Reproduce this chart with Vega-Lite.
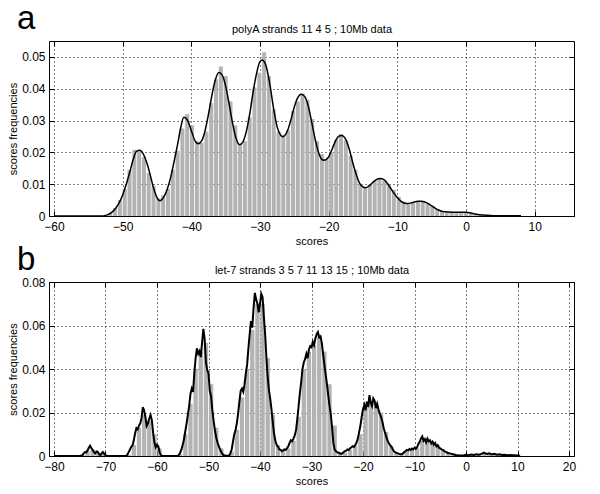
{
  "$schema": "https://vega.github.io/schema/vega-lite/v6.json",
  "padding": {"left": 7, "top": 2, "right": 0, "bottom": 0},
  "background": "white",
  "datasets": {
    "barsA": [
      {"s": -51.8, "f": 0.001}, {"s": -51.1, "f": 0.0025}, {"s": -50.4, "f": 0.005}, {"s": -49.7, "f": 0.0085},
      {"s": -49.0, "f": 0.0145}, {"s": -48.3, "f": 0.0208}, {"s": -47.6, "f": 0.0208}, {"s": -46.9, "f": 0.0185},
      {"s": -46.2, "f": 0.0135}, {"s": -45.5, "f": 0.0095}, {"s": -44.8, "f": 0.0055}, {"s": -44.1, "f": 0.0065},
      {"s": -43.4, "f": 0.0085}, {"s": -42.7, "f": 0.0145}, {"s": -42.0, "f": 0.0205}, {"s": -41.3, "f": 0.0275},
      {"s": -40.6, "f": 0.032}, {"s": -39.9, "f": 0.0285}, {"s": -39.2, "f": 0.0235}, {"s": -38.5, "f": 0.023},
      {"s": -37.8, "f": 0.0265}, {"s": -37.1, "f": 0.0355}, {"s": -36.4, "f": 0.043}, {"s": -35.7, "f": 0.047},
      {"s": -35.0, "f": 0.044}, {"s": -34.3, "f": 0.036}, {"s": -33.6, "f": 0.0285}, {"s": -32.9, "f": 0.0228},
      {"s": -32.2, "f": 0.0235}, {"s": -31.5, "f": 0.031}, {"s": -30.8, "f": 0.0405}, {"s": -30.1, "f": 0.045},
      {"s": -29.4, "f": 0.0515}, {"s": -28.7, "f": 0.044}, {"s": -28.0, "f": 0.0335}, {"s": -27.3, "f": 0.0265},
      {"s": -26.6, "f": 0.0255}, {"s": -25.9, "f": 0.027}, {"s": -25.2, "f": 0.033}, {"s": -24.5, "f": 0.036},
      {"s": -23.8, "f": 0.0385}, {"s": -23.1, "f": 0.0365}, {"s": -22.4, "f": 0.0305}, {"s": -21.7, "f": 0.0235},
      {"s": -21.0, "f": 0.0195}, {"s": -20.3, "f": 0.018}, {"s": -19.6, "f": 0.02}, {"s": -18.9, "f": 0.024},
      {"s": -18.2, "f": 0.0258}, {"s": -17.5, "f": 0.0238}, {"s": -16.8, "f": 0.019}, {"s": -16.1, "f": 0.0145},
      {"s": -15.4, "f": 0.01}, {"s": -14.7, "f": 0.009}, {"s": -14.0, "f": 0.01}, {"s": -13.3, "f": 0.0112},
      {"s": -12.6, "f": 0.0118}, {"s": -11.9, "f": 0.0112}, {"s": -11.2, "f": 0.0096}, {"s": -10.5, "f": 0.0082},
      {"s": -9.8, "f": 0.006}, {"s": -9.1, "f": 0.0045}, {"s": -8.4, "f": 0.0038}, {"s": -7.7, "f": 0.004},
      {"s": -7.0, "f": 0.0047}, {"s": -6.3, "f": 0.0045}, {"s": -5.6, "f": 0.004}, {"s": -4.9, "f": 0.0032},
      {"s": -4.2, "f": 0.0022}, {"s": -3.5, "f": 0.0015}, {"s": -2.8, "f": 0.0012}, {"s": -2.1, "f": 0.0012},
      {"s": -1.4, "f": 0.0011}, {"s": -0.7, "f": 0.0012}, {"s": 0.0, "f": 0.0012}, {"s": 0.7, "f": 0.0008},
      {"s": 1.4, "f": 0.0005}, {"s": 2.1, "f": 0.0003}
    ],
    "lineA": [
      {"s": -60, "f": 0}, {"s": -53, "f": 0}, {"s": -52.5, "f": 0.0002}, {"s": -52, "f": 0.0006}, {"s": -51.5, "f": 0.0013},
      {"s": -51, "f": 0.0025}, {"s": -50.5, "f": 0.0042}, {"s": -50, "f": 0.0066}, {"s": -49.5, "f": 0.0098}, {"s": -49, "f": 0.0135},
      {"s": -48.5, "f": 0.0175}, {"s": -48, "f": 0.0203}, {"s": -47.5, "f": 0.0207}, {"s": -47, "f": 0.0195},
      {"s": -46.5, "f": 0.0168}, {"s": -46, "f": 0.013}, {"s": -45.5, "f": 0.0088}, {"s": -45, "f": 0.0058},
      {"s": -44.6, "f": 0.0048}, {"s": -44, "f": 0.006}, {"s": -43.5, "f": 0.0085}, {"s": -43, "f": 0.0122},
      {"s": -42.5, "f": 0.0172}, {"s": -42, "f": 0.0225}, {"s": -41.5, "f": 0.0282}, {"s": -41.1, "f": 0.031},
      {"s": -40.5, "f": 0.0298}, {"s": -40, "f": 0.0268}, {"s": -39.5, "f": 0.0238}, {"s": -39, "f": 0.0227},
      {"s": -38.5, "f": 0.0236}, {"s": -38, "f": 0.0268}, {"s": -37.5, "f": 0.032}, {"s": -37, "f": 0.038},
      {"s": -36.5, "f": 0.0428}, {"s": -36, "f": 0.0451}, {"s": -35.5, "f": 0.0443}, {"s": -35, "f": 0.0408},
      {"s": -34.5, "f": 0.0352}, {"s": -34, "f": 0.0292}, {"s": -33.5, "f": 0.0245}, {"s": -33, "f": 0.0224},
      {"s": -32.5, "f": 0.0232}, {"s": -32, "f": 0.0265}, {"s": -31.5, "f": 0.032}, {"s": -31, "f": 0.039},
      {"s": -30.5, "f": 0.0448}, {"s": -30, "f": 0.0486}, {"s": -29.7, "f": 0.049}, {"s": -29.3, "f": 0.0482},
      {"s": -29, "f": 0.0462}, {"s": -28.5, "f": 0.0405}, {"s": -28, "f": 0.0335}, {"s": -27.5, "f": 0.028},
      {"s": -27, "f": 0.0254}, {"s": -26.7, "f": 0.0249}, {"s": -26, "f": 0.0268}, {"s": -25.5, "f": 0.0302},
      {"s": -25, "f": 0.0343}, {"s": -24.5, "f": 0.0372}, {"s": -24, "f": 0.0383}, {"s": -23.5, "f": 0.0376},
      {"s": -23, "f": 0.0348}, {"s": -22.5, "f": 0.0298}, {"s": -22, "f": 0.0245}, {"s": -21.5, "f": 0.0201},
      {"s": -21, "f": 0.0178}, {"s": -20.7, "f": 0.0175}, {"s": -20, "f": 0.0186}, {"s": -19.5, "f": 0.021},
      {"s": -19, "f": 0.0236}, {"s": -18.5, "f": 0.0251}, {"s": -18.1, "f": 0.0253}, {"s": -17.5, "f": 0.024},
      {"s": -17, "f": 0.021}, {"s": -16.5, "f": 0.0168}, {"s": -16, "f": 0.0131}, {"s": -15.5, "f": 0.0103},
      {"s": -15, "f": 0.0091}, {"s": -14.6, "f": 0.0089}, {"s": -14, "f": 0.0096}, {"s": -13.5, "f": 0.0107},
      {"s": -13, "f": 0.0115}, {"s": -12.5, "f": 0.0118}, {"s": -12, "f": 0.0115}, {"s": -11.5, "f": 0.0104},
      {"s": -11, "f": 0.0088}, {"s": -10.5, "f": 0.0072}, {"s": -10, "f": 0.0058}, {"s": -9.5, "f": 0.0047},
      {"s": -9, "f": 0.0041}, {"s": -8.5, "f": 0.0039}, {"s": -8, "f": 0.0041}, {"s": -7.5, "f": 0.0044},
      {"s": -7, "f": 0.0046}, {"s": -6.5, "f": 0.0046}, {"s": -6, "f": 0.0044}, {"s": -5.5, "f": 0.0039},
      {"s": -5, "f": 0.0032}, {"s": -4.5, "f": 0.0025}, {"s": -4, "f": 0.0019}, {"s": -3.5, "f": 0.0015},
      {"s": -3, "f": 0.0013}, {"s": -2, "f": 0.0012}, {"s": -1, "f": 0.0012}, {"s": 0, "f": 0.0012},
      {"s": 1, "f": 0.0008}, {"s": 2, "f": 0.0004}, {"s": 3, "f": 0.0002}, {"s": 4, "f": 0.0001}, {"s": 8, "f": 0.0001}
    ],
    "barsB": [
      {"s": -74.5, "f": 0.0006}, {"s": -73.5, "f": 0.0025}, {"s": -72.5, "f": 0.003}, {"s": -71.5, "f": 0.0015},
      {"s": -70.5, "f": 0.001}, {"s": -69.5, "f": 0.0002},
      {"s": -65.5, "f": 0.0005}, {"s": -64.5, "f": 0.005}, {"s": -63.5, "f": 0.013}, {"s": -62.5, "f": 0.019},
      {"s": -61.5, "f": 0.016}, {"s": -60.5, "f": 0.01}, {"s": -59.5, "f": 0.0035}, {"s": -58.5, "f": 0.0002},
      {"s": -55.5, "f": 0.001}, {"s": -54.5, "f": 0.01}, {"s": -53.5, "f": 0.024}, {"s": -52.5, "f": 0.04},
      {"s": -51.5, "f": 0.048}, {"s": -50.5, "f": 0.052}, {"s": -49.5, "f": 0.033}, {"s": -48.5, "f": 0.013},
      {"s": -47.5, "f": 0.0035}, {"s": -46.5, "f": 0.0004}, {"s": -45.5, "f": 0.002}, {"s": -44.5, "f": 0.012},
      {"s": -43.5, "f": 0.027}, {"s": -42.5, "f": 0.04}, {"s": -41.5, "f": 0.058}, {"s": -40.5, "f": 0.07},
      {"s": -39.5, "f": 0.07}, {"s": -38.5, "f": 0.045}, {"s": -37.5, "f": 0.019}, {"s": -36.5, "f": 0.005},
      {"s": -35.5, "f": 0.0025}, {"s": -34.5, "f": 0.0035}, {"s": -33.5, "f": 0.007}, {"s": -32.5, "f": 0.018},
      {"s": -31.5, "f": 0.04}, {"s": -30.5, "f": 0.048}, {"s": -29.5, "f": 0.051}, {"s": -28.5, "f": 0.055},
      {"s": -27.5, "f": 0.048}, {"s": -26.5, "f": 0.033}, {"s": -25.5, "f": 0.014}, {"s": -24.5, "f": 0.0018},
      {"s": -23.5, "f": 0.0015}, {"s": -22.5, "f": 0.003}, {"s": -21.5, "f": 0.0045}, {"s": -20.5, "f": 0.01},
      {"s": -19.5, "f": 0.022}, {"s": -18.5, "f": 0.025}, {"s": -17.5, "f": 0.024}, {"s": -16.5, "f": 0.02},
      {"s": -15.5, "f": 0.011}, {"s": -14.5, "f": 0.0045}, {"s": -13.5, "f": 0.0018}, {"s": -12.5, "f": 0.001},
      {"s": -11.5, "f": 0.002}, {"s": -10.5, "f": 0.003}, {"s": -9.5, "f": 0.0035}, {"s": -8.5, "f": 0.007},
      {"s": -7.5, "f": 0.0075}, {"s": -6.5, "f": 0.0065}, {"s": -5.5, "f": 0.005}, {"s": -4.5, "f": 0.0032},
      {"s": -3.5, "f": 0.0018}, {"s": -2.5, "f": 0.001}, {"s": -1.5, "f": 0.0004}, {"s": -0.5, "f": 0.0002},
      {"s": 0.5, "f": 0.0005}, {"s": 1.5, "f": 0.0006}, {"s": 2.5, "f": 0.0007}, {"s": 3.5, "f": 0.0011},
      {"s": 4.5, "f": 0.0009}, {"s": 5.5, "f": 0.0008}, {"s": 6.5, "f": 0.0006}, {"s": 7.5, "f": 0.0005},
      {"s": 8.5, "f": 0.0004}, {"s": 9.5, "f": 0.0002}
    ],
    "lineB": [
      {"s": -80, "f": 0}, {"s": -75, "f": 0}, {"s": -74.5, "f": 0.0003}, {"s": -74.25, "f": 0.0012}, {"s": -74, "f": 0.0018},
      {"s": -73.75, "f": 0.0016}, {"s": -73.5, "f": 0.0025}, {"s": -73.25, "f": 0.0038}, {"s": -73, "f": 0.0047},
      {"s": -72.75, "f": 0.0036}, {"s": -72.5, "f": 0.0029}, {"s": -72.25, "f": 0.0018}, {"s": -72, "f": 0.0012},
      {"s": -71.75, "f": 0.0021}, {"s": -71.5, "f": 0.0019}, {"s": -71.25, "f": 0.0008}, {"s": -71, "f": 0.0004},
      {"s": -70.75, "f": 0.0012}, {"s": -70.5, "f": 0.0018}, {"s": -70.25, "f": 0.001}, {"s": -70, "f": 0.0004},
      {"s": -69.75, "f": 0.0001}, {"s": -69.5, "f": 0}, {"s": -66, "f": 0},
      {"s": -65.75, "f": 0.0006}, {"s": -65.5, "f": 0.0018}, {"s": -65.25, "f": 0.003}, {"s": -65, "f": 0.0042},
      {"s": -64.75, "f": 0.0048}, {"s": -64.5, "f": 0.0072}, {"s": -64.25, "f": 0.0105}, {"s": -64, "f": 0.0128},
      {"s": -63.75, "f": 0.0122}, {"s": -63.5, "f": 0.014}, {"s": -63.25, "f": 0.015}, {"s": -63, "f": 0.0175},
      {"s": -62.75, "f": 0.0225}, {"s": -62.5, "f": 0.021}, {"s": -62.25, "f": 0.0178}, {"s": -62, "f": 0.0138},
      {"s": -61.75, "f": 0.015}, {"s": -61.5, "f": 0.0172}, {"s": -61.25, "f": 0.0189}, {"s": -61, "f": 0.0165},
      {"s": -60.75, "f": 0.0105}, {"s": -60.5, "f": 0.0062}, {"s": -60.25, "f": 0.004}, {"s": -60, "f": 0.0052},
      {"s": -59.75, "f": 0.0045}, {"s": -59.5, "f": 0.0018}, {"s": -59.25, "f": 0.0005}, {"s": -59, "f": 0}, {"s": -56, "f": 0},
      {"s": -55.75, "f": 0.0005}, {"s": -55.5, "f": 0.0015}, {"s": -55.25, "f": 0.003}, {"s": -55, "f": 0.0052},
      {"s": -54.75, "f": 0.0078}, {"s": -54.5, "f": 0.0115}, {"s": -54.25, "f": 0.015}, {"s": -54, "f": 0.019},
      {"s": -53.75, "f": 0.023}, {"s": -53.5, "f": 0.0285}, {"s": -53.25, "f": 0.031}, {"s": -53, "f": 0.0295},
      {"s": -52.75, "f": 0.038}, {"s": -52.5, "f": 0.045}, {"s": -52.25, "f": 0.0495}, {"s": -52, "f": 0.047},
      {"s": -51.75, "f": 0.0482}, {"s": -51.5, "f": 0.0455}, {"s": -51.25, "f": 0.052}, {"s": -51, "f": 0.0585},
      {"s": -50.75, "f": 0.054}, {"s": -50.5, "f": 0.043}, {"s": -50.25, "f": 0.0395}, {"s": -50, "f": 0.038},
      {"s": -49.75, "f": 0.03}, {"s": -49.5, "f": 0.0275}, {"s": -49.25, "f": 0.021}, {"s": -49, "f": 0.016},
      {"s": -48.75, "f": 0.0118}, {"s": -48.5, "f": 0.0085}, {"s": -48.25, "f": 0.0062}, {"s": -48, "f": 0.0045},
      {"s": -47.75, "f": 0.003}, {"s": -47.5, "f": 0.0018}, {"s": -47.25, "f": 0.0008}, {"s": -47, "f": 0.0003},
      {"s": -46.5, "f": 0.0001}, {"s": -46, "f": 0.0002},
      {"s": -45.75, "f": 0.0012}, {"s": -45.5, "f": 0.003}, {"s": -45.25, "f": 0.0065}, {"s": -45, "f": 0.01},
      {"s": -44.75, "f": 0.0118}, {"s": -44.5, "f": 0.015}, {"s": -44.25, "f": 0.0195}, {"s": -44, "f": 0.025},
      {"s": -43.75, "f": 0.03}, {"s": -43.5, "f": 0.031}, {"s": -43.25, "f": 0.0295}, {"s": -43, "f": 0.033},
      {"s": -42.75, "f": 0.038}, {"s": -42.5, "f": 0.042}, {"s": -42.25, "f": 0.0495}, {"s": -42, "f": 0.056},
      {"s": -41.75, "f": 0.062}, {"s": -41.5, "f": 0.059}, {"s": -41.25, "f": 0.068}, {"s": -41, "f": 0.075},
      {"s": -40.75, "f": 0.072}, {"s": -40.5, "f": 0.07}, {"s": -40.25, "f": 0.066}, {"s": -40, "f": 0.07},
      {"s": -39.75, "f": 0.0745}, {"s": -39.5, "f": 0.073}, {"s": -39.25, "f": 0.064}, {"s": -39, "f": 0.056},
      {"s": -38.75, "f": 0.045}, {"s": -38.5, "f": 0.036}, {"s": -38.25, "f": 0.03}, {"s": -38, "f": 0.026},
      {"s": -37.75, "f": 0.021}, {"s": -37.5, "f": 0.015}, {"s": -37.25, "f": 0.01}, {"s": -37, "f": 0.0068},
      {"s": -36.75, "f": 0.005}, {"s": -36.5, "f": 0.0042}, {"s": -36.25, "f": 0.003}, {"s": -36, "f": 0.0028},
      {"s": -35.75, "f": 0.0022}, {"s": -35.5, "f": 0.0026}, {"s": -35.25, "f": 0.003}, {"s": -35, "f": 0.0028},
      {"s": -34.75, "f": 0.0036}, {"s": -34.5, "f": 0.0045}, {"s": -34.25, "f": 0.006}, {"s": -34, "f": 0.0072},
      {"s": -33.75, "f": 0.0068}, {"s": -33.5, "f": 0.008}, {"s": -33.25, "f": 0.0095}, {"s": -33, "f": 0.012},
      {"s": -32.75, "f": 0.017}, {"s": -32.5, "f": 0.023}, {"s": -32.25, "f": 0.029}, {"s": -32, "f": 0.034},
      {"s": -31.75, "f": 0.04}, {"s": -31.5, "f": 0.043}, {"s": -31.25, "f": 0.0445}, {"s": -31, "f": 0.047},
      {"s": -30.75, "f": 0.045}, {"s": -30.5, "f": 0.049}, {"s": -30.25, "f": 0.0505}, {"s": -30, "f": 0.05},
      {"s": -29.75, "f": 0.0525}, {"s": -29.5, "f": 0.051}, {"s": -29.25, "f": 0.054}, {"s": -29, "f": 0.056},
      {"s": -28.75, "f": 0.057}, {"s": -28.5, "f": 0.0545}, {"s": -28.25, "f": 0.055}, {"s": -28, "f": 0.052},
      {"s": -27.75, "f": 0.047}, {"s": -27.5, "f": 0.042}, {"s": -27.25, "f": 0.0375}, {"s": -27, "f": 0.033},
      {"s": -26.75, "f": 0.028}, {"s": -26.5, "f": 0.023}, {"s": -26.25, "f": 0.019}, {"s": -26, "f": 0.013},
      {"s": -25.75, "f": 0.006}, {"s": -25.5, "f": 0.003}, {"s": -25.25, "f": 0.0022}, {"s": -25, "f": 0.0018},
      {"s": -24.75, "f": 0.0015}, {"s": -24.5, "f": 0.0012}, {"s": -24.25, "f": 0.001}, {"s": -24, "f": 0.0012},
      {"s": -23.75, "f": 0.0018}, {"s": -23.5, "f": 0.0022}, {"s": -23.25, "f": 0.0025}, {"s": -23, "f": 0.003},
      {"s": -22.75, "f": 0.0028}, {"s": -22.5, "f": 0.0036}, {"s": -22.25, "f": 0.004}, {"s": -22, "f": 0.0045},
      {"s": -21.75, "f": 0.0042}, {"s": -21.5, "f": 0.005}, {"s": -21.25, "f": 0.0062}, {"s": -21, "f": 0.008},
      {"s": -20.75, "f": 0.011}, {"s": -20.5, "f": 0.014}, {"s": -20.25, "f": 0.018}, {"s": -20, "f": 0.0215},
      {"s": -19.75, "f": 0.0235}, {"s": -19.5, "f": 0.021}, {"s": -19.25, "f": 0.025}, {"s": -19, "f": 0.0225},
      {"s": -18.75, "f": 0.028}, {"s": -18.5, "f": 0.0245}, {"s": -18.25, "f": 0.023}, {"s": -18, "f": 0.0265},
      {"s": -17.75, "f": 0.0255}, {"s": -17.5, "f": 0.022}, {"s": -17.25, "f": 0.024}, {"s": -17, "f": 0.0215},
      {"s": -16.75, "f": 0.0195}, {"s": -16.5, "f": 0.018}, {"s": -16.25, "f": 0.016}, {"s": -16, "f": 0.013},
      {"s": -15.75, "f": 0.011}, {"s": -15.5, "f": 0.009}, {"s": -15.25, "f": 0.0072}, {"s": -15, "f": 0.006},
      {"s": -14.75, "f": 0.005}, {"s": -14.5, "f": 0.0043}, {"s": -14.25, "f": 0.0032}, {"s": -14, "f": 0.0022},
      {"s": -13.75, "f": 0.0018}, {"s": -13.5, "f": 0.0014}, {"s": -13.25, "f": 0.0012}, {"s": -13, "f": 0.001},
      {"s": -12.75, "f": 0.0008}, {"s": -12.5, "f": 0.0008}, {"s": -12.25, "f": 0.0012}, {"s": -12, "f": 0.0018},
      {"s": -11.75, "f": 0.0022}, {"s": -11.5, "f": 0.0028}, {"s": -11.25, "f": 0.0025}, {"s": -11, "f": 0.0032},
      {"s": -10.75, "f": 0.0028}, {"s": -10.5, "f": 0.0034}, {"s": -10.25, "f": 0.003}, {"s": -10, "f": 0.0038},
      {"s": -9.75, "f": 0.0033}, {"s": -9.5, "f": 0.004}, {"s": -9.25, "f": 0.0055}, {"s": -9, "f": 0.0065},
      {"s": -8.75, "f": 0.008}, {"s": -8.5, "f": 0.009}, {"s": -8.25, "f": 0.007}, {"s": -8, "f": 0.0078},
      {"s": -7.75, "f": 0.0062}, {"s": -7.5, "f": 0.008}, {"s": -7.25, "f": 0.0068}, {"s": -7, "f": 0.0072},
      {"s": -6.75, "f": 0.0058}, {"s": -6.5, "f": 0.0066}, {"s": -6.25, "f": 0.0052}, {"s": -6, "f": 0.006},
      {"s": -5.75, "f": 0.0045}, {"s": -5.5, "f": 0.005}, {"s": -5.25, "f": 0.0038}, {"s": -5, "f": 0.0035},
      {"s": -4.75, "f": 0.003}, {"s": -4.5, "f": 0.0028}, {"s": -4.25, "f": 0.0022}, {"s": -4, "f": 0.002},
      {"s": -3.5, "f": 0.0014}, {"s": -3, "f": 0.0011}, {"s": -2.5, "f": 0.0008}, {"s": -2, "f": 0.0005},
      {"s": -1.5, "f": 0.0003}, {"s": -1, "f": 0.0002}, {"s": -0.5, "f": 0.0002}, {"s": 0, "f": 0.0006},
      {"s": 0.5, "f": 0.0004}, {"s": 1, "f": 0.0007}, {"s": 1.5, "f": 0.0005}, {"s": 2, "f": 0.0008},
      {"s": 2.5, "f": 0.0006}, {"s": 3, "f": 0.001}, {"s": 3.5, "f": 0.0016}, {"s": 4, "f": 0.0009},
      {"s": 4.5, "f": 0.0012}, {"s": 5, "f": 0.0007}, {"s": 5.5, "f": 0.001}, {"s": 6, "f": 0.0006},
      {"s": 6.5, "f": 0.0008}, {"s": 7, "f": 0.0005}, {"s": 7.5, "f": 0.0006}, {"s": 8, "f": 0.0004},
      {"s": 8.5, "f": 0.0005}, {"s": 9, "f": 0.0003}, {"s": 9.5, "f": 0.0003}, {"s": 10, "f": 0.0002}, {"s": 10.5, "f": 0}
    ]
  },
  "vconcat": [
    {
      "width": 525,
      "height": 175,
      "title": {"text": "a", "anchor": "start", "frame": "group", "fontSize": 33, "fontWeight": "normal", "dx": -32, "offset": -12, "color": "black"},
      "layer": [
        {
          "data": {"name": "barsA"},
          "mark": {"type": "bar", "width": 4, "color": "#b3b3b3"},
          "encoding": {
            "x": {"field": "s", "type": "quantitative", "scale": {"domain": [-60, 15], "nice": false, "zero": false},
                  "axis": {"orient": "bottom", "title": "scores", "grid": true, "values": [-60, -50, -40, -30, -20, -10, 0, 10], "format": "d"}},
            "y": {"field": "f", "type": "quantitative", "scale": {"domain": [0, 0.055], "nice": false},
                  "axis": {"orient": "left", "title": "scores frequencies", "grid": true, "values": [0, 0.01, 0.02, 0.03, 0.04, 0.05], "format": "~g"}}
          }
        },
        {
          "data": {"name": "lineA"},
          "mark": {"type": "line", "color": "black", "strokeWidth": 1.5, "interpolate": "monotone"},
          "encoding": {
            "x": {"field": "s", "type": "quantitative",
                  "axis": {"orient": "top", "title": "polyA strands 11 4 5 ; 10Mb data", "labels": false, "grid": false, "values": [-60, -50, -40, -30, -20, -10, 0, 10], "titlePadding": 6}},
            "y": {"field": "f", "type": "quantitative",
                  "axis": {"orient": "right", "title": null, "labels": false, "grid": false, "values": [0, 0.01, 0.02, 0.03, 0.04, 0.05]}}
          }
        }
      ],
      "resolve": {"axis": {"x": "independent", "y": "independent"}}
    },
    {
      "width": 525,
      "height": 174,
      "title": {"text": "b", "anchor": "start", "frame": "group", "fontSize": 33, "fontWeight": "normal", "dx": -32, "offset": -12, "color": "black"},
      "layer": [
        {
          "data": {"name": "barsB"},
          "mark": {"type": "bar", "width": 4.3, "color": "#b3b3b3"},
          "encoding": {
            "x": {"field": "s", "type": "quantitative", "scale": {"domain": [-80, 20], "nice": false, "zero": false},
                  "axis": {"orient": "bottom", "title": "scores", "grid": true, "values": [-80, -70, -60, -50, -40, -30, -20, -10, 0, 10, 20], "format": "d"}},
            "y": {"field": "f", "type": "quantitative", "scale": {"domain": [0, 0.08], "nice": false},
                  "axis": {"orient": "left", "title": "scores frequencies", "grid": true, "values": [0, 0.02, 0.04, 0.06, 0.08], "format": "~g"}}
          }
        },
        {
          "data": {"name": "lineB"},
          "mark": {"type": "line", "color": "black", "strokeWidth": 2},
          "encoding": {
            "x": {"field": "s", "type": "quantitative",
                  "axis": {"orient": "top", "title": "let-7 strands 3 5 7 11 13 15 ; 10Mb data", "labels": false, "grid": false, "values": [-80, -70, -60, -50, -40, -30, -20, -10, 0, 10, 20], "titlePadding": 6}},
            "y": {"field": "f", "type": "quantitative",
                  "axis": {"orient": "right", "title": null, "labels": false, "grid": false, "values": [0, 0.02, 0.04, 0.06, 0.08]}}
          }
        }
      ],
      "resolve": {"axis": {"x": "independent", "y": "independent"}}
    }
  ],
  "spacing": 66,
  "bounds": "flush",
  "config": {
    "font": "Liberation Sans",
    "view": {"stroke": "black", "strokeWidth": 1},
    "axis": {
      "domain": false,
      "tickColor": "black",
      "tickSize": -5,
      "labelFont": "Liberation Sans",
      "labelFontSize": 12,
      "labelColor": "black",
      "labelPadding": 10,
      "titleFont": "Liberation Sans",
      "titleFontSize": 11,
      "titleFontWeight": "normal",
      "titleColor": "black",
      "titlePadding": 3,
      "gridColor": "black",
      "gridDash": [1, 3],
      "gridOpacity": 1,
      "gridWidth": 1
    },
    "axisLeft": {"titlePadding": 3, "labelPadding": 9}
  }
}
